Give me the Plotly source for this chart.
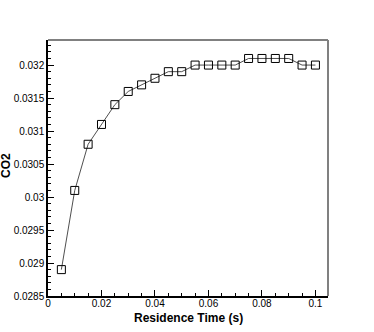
import plotly.graph_objects as go

# residence time (s) and CO2 mole fraction
time = [0.005, 0.01, 0.015, 0.02, 0.025, 0.03, 0.035, 0.04, 0.045, 0.05,
        0.055, 0.06, 0.065, 0.07, 0.075, 0.08, 0.085, 0.09, 0.095, 0.1]
co2 = [0.0289, 0.0301, 0.0308, 0.0311, 0.0314, 0.0316, 0.0317, 0.0318, 0.0319, 0.0319,
       0.0320, 0.0320, 0.0320, 0.0320, 0.0321, 0.0321, 0.0321, 0.0321, 0.0320, 0.0320]

xticks = [0, 0.02, 0.04, 0.06, 0.08, 0.1]
xlabels = ["0", "0.02", "0.04", "0.06", "0.08", "0.1"]
yticks = [0.0285, 0.029, 0.0295, 0.03, 0.0305, 0.031, 0.0315, 0.032]
ylabels = ["0.0285", "0.029", "0.0295", "0.03", "0.0305", "0.031", "0.0315", "0.032"]

fig = go.Figure()
fig.add_trace(go.Scatter(
    x=time, y=co2, mode="lines+markers",
    line=dict(color="#222", width=0.8),
    marker=dict(symbol="square-open", size=8, color="black", line=dict(width=1)),
))

axis_font = dict(family="Liberation Sans, Arial", size=10, color="black")
title_font = dict(family="Liberation Sans, Arial", size=12, color="black")

fig.update_xaxes(
    range=[0, 0.1047], tickvals=xticks, ticktext=xlabels, automargin=False,
    ticks="inside", ticklen=6, tickcolor="black", tickfont=axis_font, ticklabelstandoff=-3,
    minor=dict(dtick=0.005, ticks="inside", ticklen=3, tickcolor="black"),
    showline=True, linecolor="black", linewidth=1.5, showgrid=False, zeroline=False,
)
fig.update_yaxes(
    range=[0.0285, 0.03238], tickvals=yticks, ticktext=ylabels, automargin=False,
    ticks="inside", ticklen=6, tickcolor="black", tickfont=axis_font,
    minor=dict(dtick=0.0001, tick0=0.0285, ticks="inside", ticklen=3, tickcolor="black"),
    showline=True, linecolor="black", linewidth=1.5, showgrid=False, zeroline=False,
)

# axis titles as annotations so they sit where the reference has them
fig.add_annotation(text="<b>Residence Time (s)</b>", xref="paper", yref="paper",
                   x=0.5, y=-0.084, xanchor="center", yanchor="middle",
                   showarrow=False, font=title_font)
fig.add_annotation(text="<b>CO2</b>", xref="paper", yref="paper", textangle=-90,
                   x=-0.15, y=0.508, xanchor="center", yanchor="middle",
                   showarrow=False, font=title_font)

# grey frame on top and right
fig.add_shape(type="line", xref="paper", yref="paper", x0=0, x1=1, y0=1, y1=1,
              line=dict(color="#808080", width=2))
fig.add_shape(type="line", xref="paper", yref="paper", x0=1, x1=1, y0=0, y1=1,
              line=dict(color="#808080", width=2))

fig.update_layout(
    width=374, height=332,
    margin=dict(l=48, r=46, t=40, b=36),
    plot_bgcolor="white", paper_bgcolor="white",
    showlegend=False,
)

# drop the page's default body margin so the figure fills the window
fig.write_html("out.html", config={"displayModeBar": False},
               post_script="document.body.style.margin='0';")
